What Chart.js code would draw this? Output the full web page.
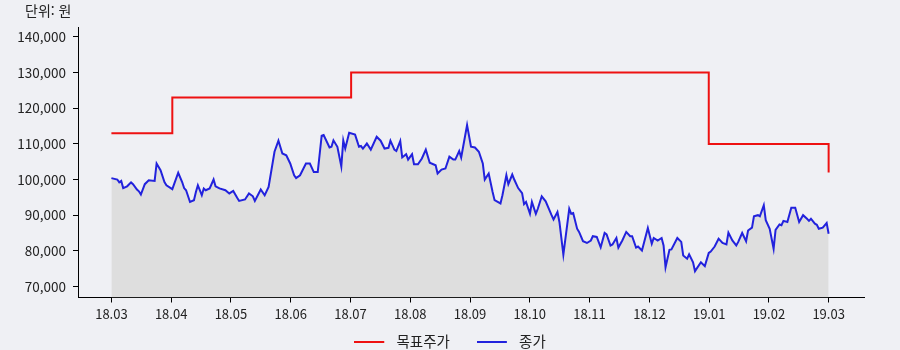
<!DOCTYPE html>
<html lang="ko">
<head>
<meta charset="utf-8">
<script src="https://cdn.jsdelivr.net/npm/chart.js@4.4.1/dist/chart.umd.min.js"></script>
<style>
    html, body { margin: 0; padding: 0; background: #eff0f4; }
    #wrap { position: relative; width: 900px; height: 350px; }
    #unit { position: absolute; left: 25px; top: 0px; font: 14px 'Noto Sans CJK KR', sans-serif; color: #222; }
</style>
</head>
<body>
<div id="wrap">
    <div id="unit">단위: 원</div>
    <canvas id="chart" width="900" height="350"></canvas>
</div>
<script>
// x values are days since 2018-03-01; the month ticks are evenly spaced
const monthDays = [0, 30.4, 60.8, 91.3, 121.7, 152.1, 182.5, 212.9, 243.3, 273.8, 304.2, 334.6, 365];
const monthLabels = ['18.03', '18.04', '18.05', '18.06', '18.07', '18.08', '18.09', '18.10', '18.11', '18.12', '19.01', '19.02', '19.03'];
const yTicks = [70000, 80000, 90000, 100000, 110000, 120000, 130000, 140000];

// 목표주가 (target price), step changes
const targetDays = [0, 31, 122, 304, 365];
const targetPrices = [113000, 123000, 130000, 110000, 102000];

// 종가 (closing price)
const closeDays = [
    0, 3, 4, 5, 6, 8, 10, 11, 13, 14, 15, 17, 19, 22, 23, 25, 27, 28, 31, 34,
    36, 37, 38, 40, 42, 43, 44, 46, 47, 48, 50, 52, 53, 55, 58, 60, 62, 64, 65, 68,
    70, 72, 73, 76, 78, 80, 83, 85, 87, 89, 91, 93, 94, 96, 99, 101, 103, 105, 107, 108,
    111, 112, 113, 115, 117, 118, 119, 121, 124, 126, 127, 128, 130, 132, 135, 137, 139, 141, 142, 144,
    145, 147, 148, 150, 151, 153, 154, 156, 158, 160, 162, 165, 166, 168, 170, 172, 174, 175, 177, 178,
    179, 181, 183, 185, 187, 189, 190, 192, 194, 195, 198, 199, 201, 202, 204, 205, 207, 209, 210, 211,
    213, 214, 216, 217, 219, 221, 224, 225, 227, 228, 230, 233, 234, 235, 237, 238, 240, 242, 244, 245,
    247, 249, 251, 252, 254, 255, 257, 258, 260, 262, 264, 265, 267, 268, 270, 273, 275, 276, 278, 280,
    281, 282, 284, 285, 288, 290, 291, 293, 294, 296, 297, 300, 302, 304, 305, 307, 309, 311, 313, 314,
    316, 318, 319, 321, 323, 324, 326, 327, 329, 330, 332, 333, 335, 337, 338, 340, 341, 342, 344, 346,
    348, 350, 352, 354, 355, 356, 358, 359, 360, 362, 364, 365
];
const closePrices = [
    100400, 100000, 99200, 99600, 97600, 98100, 99200, 98700, 97200, 96700, 95800, 98700, 99800, 99600, 104500, 102600, 99300, 98400, 97300, 101900,
    99300, 97600, 97000, 93700, 94200, 96500, 98400, 95600, 97500, 97000, 97500, 100000, 98100, 97500, 97000, 96100, 96800, 94900, 94000, 94400,
    96100, 95300, 94000, 97200, 95600, 97900, 107800, 110900, 107300, 106800, 104500, 101200, 100400, 101200, 104500, 104500, 102100, 102100, 112300, 112500,
    109000, 109200, 111000, 109200, 103700, 111000, 108700, 113100, 112600, 109200, 109400, 108700, 110100, 108400, 112000, 110900, 108700, 108900, 110900, 108400,
    108000, 110800, 106200, 107100, 105600, 107100, 104300, 104300, 105900, 108400, 104700, 104000, 101700, 102800, 103100, 106400, 105600, 105600, 108000, 106200,
    109200, 115300, 109200, 109000, 107800, 104500, 100000, 101700, 96500, 94200, 93300, 95600, 101200, 98700, 101400, 100000, 97600, 96200, 93100, 93700,
    90400, 93700, 90400, 91800, 95300, 93900, 90000, 88800, 90900, 88100, 78900, 91800, 90400, 90600, 86200, 85300, 82700, 82200, 82900, 84100,
    83900, 81000, 85000, 84600, 81500, 81800, 83600, 80900, 82900, 85300, 84100, 84100, 80900, 81200, 80100, 86400, 82000, 83600, 82900, 83600,
    81500, 75400, 80300, 80400, 83600, 82500, 78700, 77800, 79000, 76800, 74300, 76800, 75700, 79400, 79800, 81200, 83400, 82200, 81800, 85100,
    82900, 81500, 82500, 85000, 82700, 85700, 86500, 89700, 90000, 89700, 92800, 88600, 86200, 80600, 85900, 87400, 87200, 88400, 88100, 92100,
    92100, 88100, 90000, 89000, 88400, 89000, 87600, 87300, 86200, 86500, 87800, 84800
];

const FONT = "'Noto Sans CJK KR', 'Noto Sans', sans-serif";
const TARGET_COLOR = '#ee1111';
const CLOSE_COLOR = '#2222dd';

const toPoints = (xs, ys) => xs.map((x, i) => ({ x: x, y: ys[i] }));

// legend swatch: a 30px line with some empty space after it
function lineSwatch(color) {
    const c = document.createElement('canvas');
    c.width = 35;
    c.height = 2;
    const ctx = c.getContext('2d');
    ctx.fillStyle = color;
    ctx.fillRect(0, 0, 30, 2);
    return c;
}

const axisStyle = {
    grid: { display: true, drawOnChartArea: false, drawTicks: true, tickLength: 5, color: '#000' },
    border: { display: true, color: '#000', width: 1 },
};

// the legend sits closer to the x axis labels than chart.js would put it
const legendShift = {
    id: 'legendShift',
    afterLayout(chart) {
        chart.legend.top -= 16;
        chart.legend.bottom -= 16;
        chart.legend.left += 18;
        chart.legend.right += 18;
    },
};

new Chart(document.getElementById('chart'), {
    type: 'line',
    data: {
        datasets: [{
            label: '목표주가',
            data: toPoints(targetDays, targetPrices),
            borderColor: TARGET_COLOR,
            borderWidth: 2,
            stepped: 'before',
            pointRadius: 0,
            pointStyle: lineSwatch(TARGET_COLOR),
            fill: false,
        }, {
            label: '종가',
            data: toPoints(closeDays, closePrices),
            borderColor: CLOSE_COLOR,
            backgroundColor: '#dedede',
            borderWidth: 2,
            tension: 0,
            pointRadius: 0,
            pointStyle: lineSwatch(CLOSE_COLOR),
            fill: 'start',
        }],
    },
    plugins: [legendShift],
    options: {
        responsive: false,
        animation: false,
        layout: { padding: { top: 27, right: 36, left: 0, bottom: -25 } },
        plugins: {
            legend: {
                position: 'bottom',
                labels: {
                    usePointStyle: true,
                    pointStyleWidth: 35,
                    padding: 27,
                    color: '#222',
                    font: { family: FONT, size: 14.5 },
                },
            },
            tooltip: { enabled: false },
        },
        scales: {
            x: {
                type: 'linear',
                min: -17,
                max: 383,
                afterBuildTicks: scale => { scale.ticks = monthDays.map(v => ({ value: v })); },
                afterFit: scale => { scale.height = 26; },
                ticks: {
                    padding: 4,
                    color: '#222',
                    font: { family: FONT, size: 13 },
                    callback: v => monthLabels[monthDays.indexOf(v)],
                },
                ...axisStyle,
            },
            y: {
                min: 66900,
                max: 142800,
                afterBuildTicks: scale => { scale.ticks = yTicks.map(v => ({ value: v })); },
                afterFit: scale => { scale.width = 78; },
                ticks: {
                    padding: 7,
                    color: '#222',
                    font: { family: FONT, size: 13.5 },
                    callback: v => v.toLocaleString('en-US'),
                },
                ...axisStyle,
            },
        },
    },
});
</script>
</body>
</html>
